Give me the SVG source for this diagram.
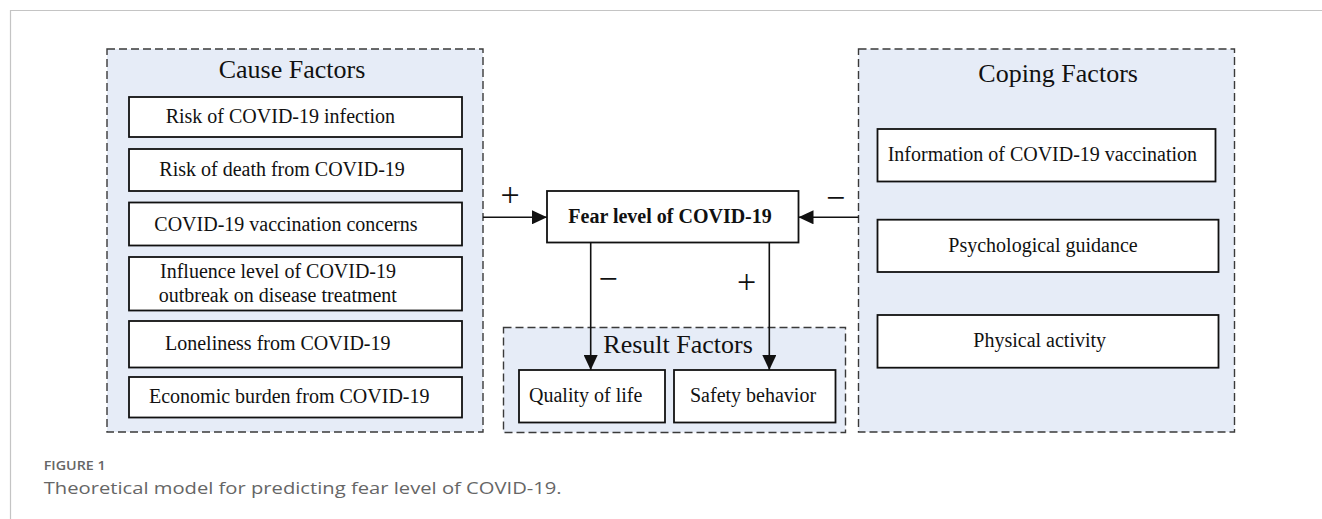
<svg xmlns="http://www.w3.org/2000/svg" width="1322" height="519" viewBox="0 0 1322 519">
<style>
.grp{fill:#E6ECF7;stroke:#3a3a3a;stroke-width:1.4;stroke-dasharray:8 4}
.box{fill:#fff;stroke:#111;stroke-width:1.8}
.t{font-family:"Liberation Serif","Times New Roman",serif;font-size:20px;fill:#111}
.h{font-family:"Liberation Serif","Times New Roman",serif;font-size:26px;fill:#111}
.s{font-family:"Liberation Serif","Times New Roman",serif;font-size:34px;fill:#111}
.b{font-weight:bold}
.con{stroke:#111;stroke-width:1.6;fill:none}
.cap{font-family:"Open Sans","Liberation Sans",sans-serif;fill:#666}
</style>
<defs>
<marker id="ah" viewBox="0 0 15 14" refX="15" refY="7" markerWidth="15" markerHeight="14" markerUnits="userSpaceOnUse" orient="auto">
<path d="M0,0 L15,7 L0,14 Z" fill="#111"/>
</marker>
</defs>
<rect width="1322" height="519" fill="#fff"/>
<path d="M10.5,519 V10.5 H1322" fill="none" stroke="#c4c4c4" stroke-width="1.2"/>

<g id="cause">
<rect class="grp" x="107" y="49" width="376" height="383"/>
<text class="h" x="292" y="78" text-anchor="middle">Cause Factors</text>
<g id="cause1"><rect class="box" x="129" y="97" width="333" height="40"/><text class="t" x="165.7" y="123.3">Risk of COVID-19 infection</text></g>
<g id="cause2"><rect class="box" x="129" y="149" width="333" height="42"/><text class="t" x="159.3" y="175.7">Risk of death from COVID-19</text></g>
<g id="cause3"><rect class="box" x="129" y="202.5" width="333" height="43"/><text class="t" x="154.3" y="231">COVID-19 vaccination concerns</text></g>
<g id="cause4"><rect class="box" x="129" y="257" width="333" height="53.5"/><text class="t" x="160" y="277.7">Influence level of COVID-19</text><text class="t" x="158.7" y="301.7">outbreak on disease treatment</text></g>
<g id="cause5"><rect class="box" x="129" y="321" width="333" height="46.5"/><text class="t" x="165" y="350">Loneliness from COVID-19</text></g>
<g id="cause6"><rect class="box" x="129" y="377" width="333" height="40.5"/><text class="t" x="149" y="403.3">Economic burden from COVID-19</text></g>
</g>

<g id="fear">
<rect class="box" x="547" y="191" width="251.5" height="51.5"/>
<text class="t b" x="568.3" y="222.7">Fear level of COVID-19</text>
</g>

<g id="result">
<rect class="grp" x="503.5" y="327.5" width="342" height="105"/>
<text class="h" x="603.3" y="352.7">Result Factors</text>
<g id="quality"><rect class="box" x="519" y="370" width="146" height="52.5"/><text class="t" x="529" y="401.7">Quality of life</text></g>
<g id="safety"><rect class="box" x="674" y="370" width="161.5" height="52.5"/><text class="t" x="690" y="401.7">Safety behavior</text></g>
</g>

<g id="coping">
<rect class="grp" x="858.5" y="49" width="376" height="383"/>
<text class="h" x="978.3" y="81.7">Coping Factors</text>
<g id="coping1"><rect class="box" x="877.5" y="129" width="338" height="52.5"/><text class="t" x="887.7" y="160.7">Information of COVID-19 vaccination</text></g>
<g id="coping2"><rect class="box" x="877.5" y="219.7" width="341" height="52.3"/><text class="t" x="948.3" y="251.7">Psychological guidance</text></g>
<g id="coping3"><rect class="box" x="877.5" y="315" width="341" height="52.7"/><text class="t" x="973.3" y="346.7">Physical activity</text></g>
</g>

<g id="connectors">
<line class="con" x1="483" y1="217.3" x2="547" y2="217.3" marker-end="url(#ah)"/>
<line class="con" x1="858.5" y1="217.3" x2="798.5" y2="217.3" marker-end="url(#ah)"/>
<line class="con" x1="590.7" y1="242.5" x2="590.7" y2="370" marker-end="url(#ah)"/>
<line class="con" x1="769.3" y1="242.5" x2="769.3" y2="370" marker-end="url(#ah)"/>
<text class="s" x="510" y="205.5" text-anchor="middle">+</text>
<text class="s" x="835.7" y="208.5" text-anchor="middle">−</text>
<text class="s" x="608" y="290" text-anchor="middle">−</text>
<text class="s" x="746.7" y="293" text-anchor="middle">+</text>
</g>

<text class="cap" x="43.7" y="470" font-size="13" font-weight="600" textLength="62" lengthAdjust="spacingAndGlyphs">FIGURE 1</text>
<text class="cap" x="43.7" y="494.3" font-size="15.5" textLength="518" lengthAdjust="spacingAndGlyphs">Theoretical model for predicting fear level of COVID-19.</text>
</svg>
